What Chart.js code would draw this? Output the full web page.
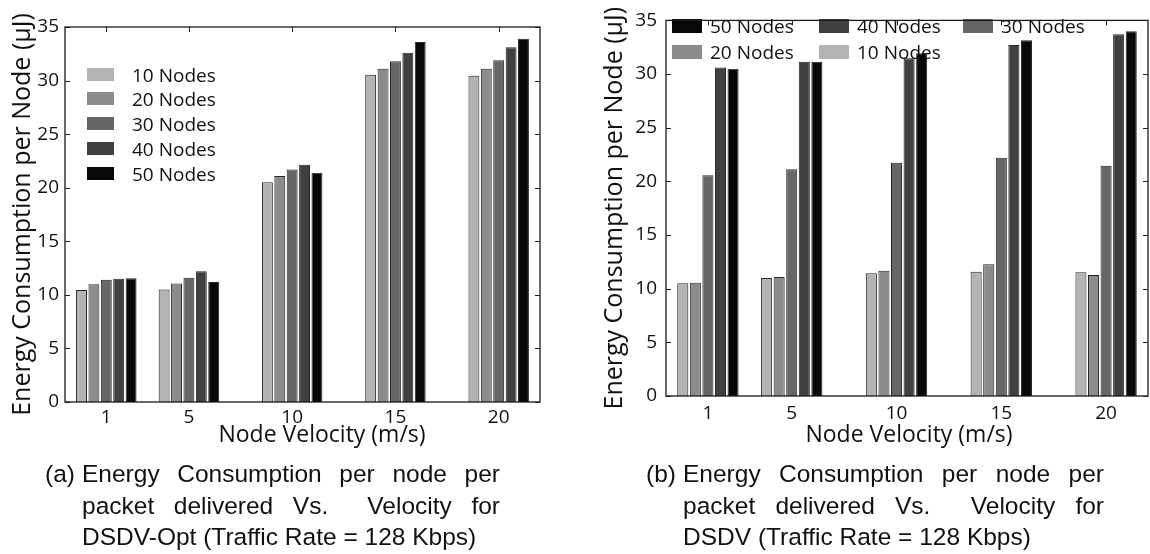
<!DOCTYPE html>
<html>
<head>
<meta charset="utf-8">
<script src="https://cdn.jsdelivr.net/npm/chart.js@4.4.1/dist/chart.umd.min.js"></script>
<style>
    body {
        margin: 0;
        background: #fff;
        width: 1150px;
        height: 554px;
        overflow: hidden;
        position: relative;
        font-family: 'Liberation Sans', Arial, sans-serif;
    }
    canvas { position: absolute; top: 0; }
    #chartOpt { left: 0; }
    #chartDsdv { left: 580px; }
    .legenda-fig {
        position: absolute;
        top: 458px;
        font-size: 24.5px;
        line-height: 31.5px;
        color: #111;
    }
    .legenda-fig .letra { position: absolute; left: 0; top: 0; }
    .legenda-fig .linha { margin-left: 37px; text-align: justify; }
    .legenda-fig .just { text-align-last: justify; }
    #legendaA { left: 45px; width: 455px; }
    #legendaB { left: 646px; width: 458px; }
</style>
</head>
<body>
<canvas id="chartOpt" width="580" height="460"></canvas>
<canvas id="chartDsdv" width="570" height="460"></canvas>

<div class="legenda-fig" id="legendaA">
    <span class="letra">(a)</span>
    <div class="linha just">Energy Consumption per node per</div>
    <div class="linha just">packet delivered Vs.&nbsp; Velocity for</div>
    <div class="linha">DSDV-Opt (Traffic Rate = 128 Kbps)</div>
</div>
<div class="legenda-fig" id="legendaB">
    <span class="letra">(b)</span>
    <div class="linha just">Energy Consumption per node per</div>
    <div class="linha just">packet delivered Vs.&nbsp; Velocity for</div>
    <div class="linha">DSDV (Traffic Rate = 128 Kbps)</div>
</div>

<script>
// eixos
var velocidades = [1, 5, 10, 15, 20];
var ticksY = [0, 5, 10, 15, 20, 25, 30, 35];
var nomesNos = ['10 Nodes', '20 Nodes', '30 Nodes', '40 Nodes', '50 Nodes'];
var coresNos = ['#b3b3b3', '#8c8c8c', '#666666', '#404040', '#080808'];
var tituloY = 'Energy Consumption per Node (μJ)';
var tituloX = 'Node Velocity (m/s)';

// (a) DSDV-Opt
var opt10Nos = [10.45, 10.5, 20.5, 30.55, 30.45];
var opt20Nos = [10.98, 11.05, 21.1, 31.1, 31.1];
var opt30Nos = [11.42, 11.6, 21.7, 31.8, 31.9];
var opt40Nos = [11.5, 12.2, 22.15, 32.6, 33.1];
var opt50Nos = [11.54, 11.2, 21.4, 33.6, 33.9];

// (b) DSDV
var dsdv10Nos = [10.5, 11.0, 11.45, 11.57, 11.54];
var dsdv20Nos = [10.56, 11.08, 11.67, 12.28, 11.27];
var dsdv30Nos = [20.58, 21.13, 21.74, 22.2, 21.46];
var dsdv40Nos = [30.62, 31.14, 31.48, 32.7, 33.71];
var dsdv50Nos = [30.5, 31.14, 31.94, 33.16, 34.0];

var fonteGrafico = "'Open Sans', 'DejaVu Sans', sans-serif";

function desenharLegenda(chart, opts) {
    var ctx = chart.ctx;
    ctx.save();
    ctx.font = opts.tamanhoFonte + 'px ' + fonteGrafico;
    ctx.textBaseline = 'middle';
    ctx.textAlign = 'left';
    opts.itens.forEach(function (item) {
        var ds = chart.data.datasets[item.ds];
        ctx.fillStyle = ds.backgroundColor;
        ctx.fillRect(item.x, item.y, opts.caixaW, opts.caixaH);
        ctx.fillStyle = '#111';
        ctx.fillText(ds.label, item.x + opts.caixaW + opts.espaco, item.y + opts.caixaH / 2 + 2);
    });
    ctx.restore();
}

// moldura fechada com ticks para dentro (estilo matlab)
var pluginMoldura = {
    id: 'moldura',
    beforeDatasetsDraw: function (chart, args, opts) {
        var ctx = chart.ctx;
        var area = chart.chartArea;
        var escalaX = chart.scales.x;
        var escalaY = chart.scales.y;
        ctx.save();
        ctx.strokeStyle = '#222';
        ctx.lineWidth = 1;
        ctx.beginPath();
        escalaX.ticks.forEach(function (t, i) {
            var px = Math.round(escalaX.getPixelForTick(i)) + 0.5;
            ctx.moveTo(px, area.top);
            ctx.lineTo(px, area.top + 5);
            ctx.moveTo(px, area.bottom);
            ctx.lineTo(px, area.bottom - 5);
        });
        escalaY.ticks.forEach(function (t, i) {
            var py = Math.round(escalaY.getPixelForTick(i)) + 0.5;
            ctx.moveTo(area.left, py);
            ctx.lineTo(area.left + 5, py);
            ctx.moveTo(area.right, py);
            ctx.lineTo(area.right - 5, py);
        });
        ctx.stroke();
        ctx.restore();
        if (opts.legendaAtras) {
            desenharLegenda(chart, opts);
        }
    },
    afterDatasetsDraw: function (chart, args, opts) {
        var ctx = chart.ctx;
        var area = chart.chartArea;
        ctx.save();
        ctx.strokeStyle = '#1a1a1a';
        ctx.lineWidth = 1.3;
        ctx.strokeRect(area.left, area.top, area.right - area.left, area.bottom - area.top);

        // titulo do eixo x
        ctx.font = opts.tamanhoTitulo + 'px ' + fonteGrafico;
        ctx.fillStyle = '#111';
        ctx.textAlign = 'center';
        ctx.textBaseline = 'middle';
        ctx.fillText(tituloX, opts.tituloX, opts.tituloY);
        ctx.restore();
        if (!opts.legendaAtras) {
            desenharLegenda(chart, opts);
        }
    }
};

function plotarGrafico(idCanvas, series, cfg) {
    var datasets = [];
    for (var i = 0; i < series.length; i++) {
        datasets.push({
            label: nomesNos[i],
            data: series[i],
            backgroundColor: coresNos[i],
            borderColor: '#262626',
            borderWidth: 1,
            borderSkipped: 'start',
            categoryPercentage: 0.75,
            barPercentage: 0.88
        });
    }

    var config = {
        type: 'bar',
        data: {
            labels: velocidades,
            datasets: datasets
        },
        plugins: [pluginMoldura],
        options: {
            responsive: false,
            animation: false,
            layout: { padding: cfg.padding },
            scales: {
                x: {
                    type: 'linear',
                    min: -1,
                    max: 22,
                    offset: false,
                    grid: { display: false, drawTicks: false },
                    border: { display: false },
                    afterBuildTicks: function (escala) {
                        escala.ticks = velocidades.map(function (v) { return { value: v }; });
                    },
                    afterFit: function (escala) { escala.height = cfg.alturaX; },
                    ticks: {
                        color: '#111',
                        padding: cfg.padTickX,
                        maxRotation: 0,
                        autoSkip: false,
                        font: { family: fonteGrafico, size: 19 },
                        callback: function (v) { return String(v); }
                    }
                },
                y: {
                    min: 0,
                    max: 35,
                    grid: { display: false, drawTicks: false },
                    border: { display: false },
                    afterBuildTicks: function (escala) {
                        escala.ticks = ticksY.map(function (v) { return { value: v }; });
                    },
                    afterFit: function (escala) { escala.width = cfg.larguraY; },
                    ticks: {
                        color: '#111',
                        padding: cfg.padTickY,
                        font: { family: fonteGrafico, size: 19 },
                        callback: function (v) { return String(v); }
                    },
                    title: {
                        display: true,
                        text: tituloY,
                        color: '#111',
                        padding: { top: cfg.padTituloY, bottom: 0 },
                        font: { family: fonteGrafico, size: 25 }
                    }
                }
            },
            plugins: {
                legend: { display: false },
                tooltip: { enabled: false },
                moldura: cfg.moldura
            }
        }
    };

    return new Chart(document.getElementById(idCanvas), config);
}

var chartOpt = plotarGrafico('chartOpt', [opt10Nos, opt20Nos, opt30Nos, opt40Nos, opt50Nos], {
    padding: { top: 27, right: 40, left: 0, bottom: 0 },
    larguraY: 65,
    alturaX: 58,
    padTickX: 4,
    padTickY: 6,
    padTituloY: 8,
    moldura: {
        legendaAtras: false,
        tamanhoFonte: 19,
        tamanhoTitulo: 23,
        tituloX: 322,
        tituloY: 435,
        caixaW: 27,
        caixaH: 13,
        espaco: 18,
        itens: [
            { ds: 0, x: 87, y: 68 },
            { ds: 1, x: 87, y: 92 },
            { ds: 2, x: 87, y: 117 },
            { ds: 3, x: 87, y: 142 },
            { ds: 4, x: 87, y: 167 }
        ]
    }
});

var chartDsdv = plotarGrafico('chartDsdv', [dsdv10Nos, dsdv20Nos, dsdv30Nos, dsdv40Nos, dsdv50Nos], {
    padding: { top: 15, right: 2, left: 0, bottom: 0 },
    larguraY: 86,
    alturaX: 64,
    padTickX: 6,
    padTickY: 9,
    padTituloY: 20,
    moldura: {
        legendaAtras: true,
        tamanhoFonte: 19,
        tamanhoTitulo: 23,
        tituloX: 329,
        tituloY: 435,
        caixaW: 30,
        caixaH: 14,
        espaco: 8,
        itens: [
            { ds: 4, x: 92, y: 19 },
            { ds: 3, x: 239, y: 19 },
            { ds: 2, x: 383, y: 19 },
            { ds: 1, x: 92, y: 45 },
            { ds: 0, x: 239, y: 45 }
        ]
    }
});
</script>
</body>
</html>
